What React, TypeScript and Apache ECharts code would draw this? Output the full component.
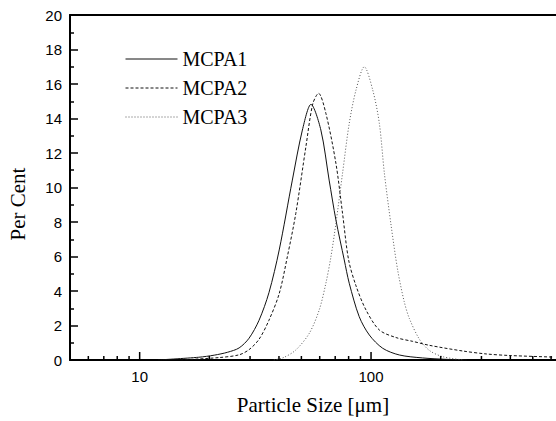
import React, { useEffect, useRef } from "react";
import * as echarts from "echarts";

const seriesNames = ["MCPA1", "MCPA2", "MCPA3"];

const mcpa1: [number, number][] = [
  [12, 0], [18, 0.16], [21, 0.28], [24, 0.45], [26.9, 0.7], [29.7, 1.26], [32.8, 2.3], [36.2, 3.9],
  [40.1, 6.38], [45.7, 10.43], [50.5, 13.33], [55.0, 14.82], [60.7, 13.33],
  [65.9, 10.43], [70.5, 8.12], [76.6, 5.8], [80.5, 4.45], [88.9, 2.51], [98.3, 1.45],
  [112.3, 0.68], [132.6, 0.29], [166.8, 0.12], [210, 0.04], [260, 0],
];

const mcpa2: [number, number][] = [
  [15, 0], [22.0, 0.14], [26.9, 0.3], [29.7, 0.6], [32.8, 1.2], [36.2, 2.3], [40.1, 3.85],
  [43.5, 6.0], [47.3, 8.5], [52.3, 12.37], [56.0, 14.85], [59.3, 15.46],
  [63.8, 14.3], [70.5, 11.4], [75.3, 8.5], [80.0, 5.8], [86.1, 4.3], [95.1, 2.9],
  [108.6, 1.74], [128.3, 1.3], [151.4, 1.08], [178.9, 0.85], [249.5, 0.52], [315, 0.35],
  [398, 0.26], [611, 0.17],
];

const mcpa3: [number, number][] = [
  [38, 0], [42, 0.15], [47.3, 0.58], [54.1, 1.55], [59.7, 2.9], [63.8, 4.45], [67.1, 5.99],
  [70.5, 7.92], [75.3, 10.82], [80.5, 13.72], [86.1, 15.65], [93.5, 17.0], [101.7, 15.65],
  [108.6, 13.72], [114.2, 10.82], [122.1, 7.8], [130.4, 5.2], [139, 3.4], [146.5, 2.4],
  [161.9, 1.2], [178.9, 0.55], [204.3, 0.19], [250, 0],
];

const xMajorTicks = [10, 100];
const xMinorTicks = [6, 7, 8, 9, 20, 30, 40, 50, 60, 70, 80, 90, 200, 300, 400, 500, 600];
const xLabels = [10, 100];

const X_MIN = 5;
const X_MAX = 630;

export default function App() {
  const ref = useRef<HTMLDivElement>(null);

  useEffect(() => {
    if (!ref.current) return;
    const chart = echarts.init(ref.current, undefined, { renderer: "svg" });

    const tickData = [
      ...xMajorTicks.map((v) => [v, 0, 8]),
      ...xMinorTicks.map((v) => [v, 0, 4]),
    ];

    const serif = "Liberation Serif";
    const sans = "Liberation Sans";

    chart.setOption({
      animation: false,
      backgroundColor: "#fff",
      grid: { left: 70, top: 15, right: 0, bottom: 61, containLabel: false },
      legend: {
        data: seriesNames,
        orient: "vertical",
        left: 125,
        top: 49,
        padding: 0,
        itemWidth: 52,
        itemHeight: 17,
        itemGap: 9,
        itemStyle: { opacity: 0, color: "rgba(0,0,0,0)", borderWidth: 0 },
        lineStyle: { width: 1 },
        textStyle: { fontFamily: serif, fontSize: 20, color: "#000" },
      },
      xAxis: [
        {
          type: "log",
          logBase: 10,
          min: X_MIN,
          max: X_MAX,
          name: "Particle Size [\u03bcm]",
          nameLocation: "middle",
          nameGap: 34,
          nameTextStyle: { fontFamily: serif, fontSize: 21, color: "#000" },
          axisLine: { show: true, lineStyle: { color: "#000", width: 2 } },
          axisTick: { show: false },
          minorTick: { show: false },
          splitLine: { show: false },
          axisLabel: {
            fontFamily: sans,
            fontSize: 15,
            color: "#000",
            margin: 9,
            showMinLabel: false,
            showMaxLabel: false,
            formatter: (v: number) => {
              for (const l of xLabels) {
                if (Math.abs(v - l) < 1e-6 * l) return String(l);
              }
              return "";
            },
          },
        },
        {
          type: "log",
          logBase: 10,
          min: X_MIN,
          max: X_MAX,
          position: "top",
          axisLine: { show: true, lineStyle: { color: "#000", width: 2 } },
          axisTick: { show: false },
          axisLabel: { show: false },
          splitLine: { show: false },
        },
      ],
      yAxis: {
        type: "value",
        min: 0,
        max: 20,
        interval: 2,
        axisLine: { show: true, lineStyle: { color: "#000", width: 2 } },
        axisTick: { show: true, inside: true, length: 8, lineStyle: { color: "#000", width: 1.5 } },
        minorTick: { show: true, splitNumber: 2, length: 4, lineStyle: { color: "#000", width: 1.5 } },
        splitLine: { show: false },
        axisLabel: { fontFamily: sans, fontSize: 15, color: "#000", margin: 8 },
      },
      graphic: [
        {
          type: "text",
          x: 18,
          y: 204,
          rotation: Math.PI / 2,
          style: {
            text: "Per Cent",
            fontFamily: serif,
            fontSize: 21,
            fill: "#000",
            align: "center",
            verticalAlign: "middle",
          },
        },
      ],
      series: [
        {
          name: "MCPA1",
          type: "line",
          xAxisIndex: 0,
          data: mcpa1,
          symbol: "none",
          smooth: 0.3,
          lineStyle: { color: "#111", width: 1, type: "solid" },
          itemStyle: { color: "#111" },
          z: 3,
        },
        {
          name: "MCPA2",
          type: "line",
          xAxisIndex: 0,
          data: mcpa2,
          symbol: "none",
          smooth: 0.3,
          lineStyle: { color: "#111", width: 1, type: [3, 2] },
          itemStyle: { color: "#111" },
          z: 3,
        },
        {
          name: "MCPA3",
          type: "line",
          xAxisIndex: 0,
          data: mcpa3,
          symbol: "none",
          smooth: 0.3,
          lineStyle: { color: "#555", width: 1, type: [1, 2] },
          itemStyle: { color: "#555" },
          z: 3,
        },
        {
          name: "ticks",
          type: "custom",
          xAxisIndex: 0,
          data: tickData,
          silent: true,
          clip: false,
          z: 5,
          renderItem: (_params: any, api: any) => {
            const p = api.coord([api.value(0), 0]);
            const len = api.value(2);
            return {
              type: "line",
              shape: { x1: p[0], y1: p[1], x2: p[0], y2: p[1] - len },
              style: { stroke: "#000", lineWidth: 1.5 },
            };
          },
        },
      ],
    });

    return () => chart.dispose();
  }, []);

  return <div ref={ref} style={{ width: 556, height: 421, position: "absolute", left: 0, top: 0 }} />;
}
